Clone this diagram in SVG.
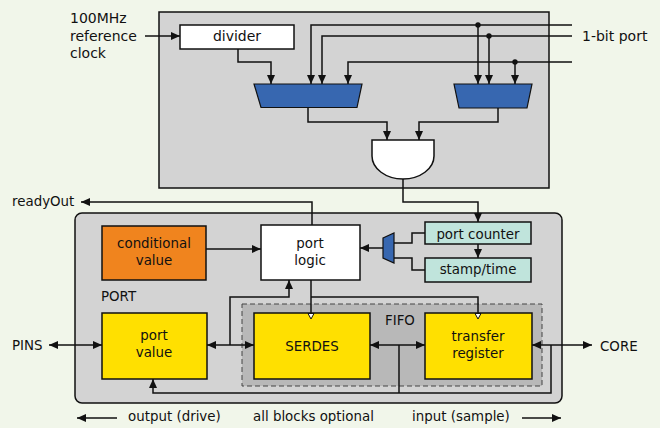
<svg xmlns="http://www.w3.org/2000/svg" width="660" height="428" viewBox="0 0 660 428">
<style>
text{font-family:"DejaVu Sans","Liberation Sans",sans-serif;font-size:13.4px;fill:#111}
.big{font-size:14px}
.c{text-anchor:middle}
.box{stroke:#111;stroke-width:1.5}
.w{stroke:#111;stroke-width:1.5;fill:none}
.a{marker-end:url(#ah)}
.d{marker-start:url(#ah);marker-end:url(#ah)}
.o{marker-end:url(#clk)}
.mux{fill:#3767b0;stroke:#111;stroke-width:1.2}
</style>
<defs>
<marker id="ah" markerUnits="userSpaceOnUse" markerWidth="10" markerHeight="10" refX="9" refY="0" orient="auto-start-reverse" overflow="visible"><path d="M0,-4 L9,0 L0,4 z" fill="#111"/></marker>
<marker id="clk" markerUnits="userSpaceOnUse" markerWidth="8" markerHeight="8" refX="0" refY="0" orient="auto" overflow="visible"><path d="M0.5,-3 L6,0 L0.5,3 z" fill="#fff" stroke="#111" stroke-width="1"/></marker>
</defs>
<rect width="660" height="428" fill="#f1f6ea"/>
<g id="timer-block"><rect x="159" y="12" width="390" height="176" fill="#d3d3d3" class="box"/></g>
<g id="port-block"><rect x="75" y="213" width="487" height="190" rx="7" fill="#d3d3d3" class="box"/><text x="101" y="301">PORT</text></g>
<g id="fifo"><rect x="242" y="304" width="300" height="82" fill="#b8b8b8" stroke="#444" stroke-width="1" stroke-dasharray="5,3"/><text x="385" y="325">FIFO</text></g>
<g id="clock-label"><text class="big" x="70" y="23">100MHz</text><text class="big" x="70" y="41">reference</text><text class="big" x="70" y="58">clock</text></g>
<g id="divider"><rect x="180" y="25" width="114" height="24" fill="#fff" class="box"/><text class="big c" x="237" y="41">divider</text></g>
<g id="port-label"><text class="big" x="582" y="41">1-bit port</text></g>
<g id="mux-left"><polygon points="254,84 362,84 357,107.5 261,107.5" class="mux"/></g>
<g id="mux-right"><polygon points="454,84 532,84 527,108 459,108" class="mux"/></g>
<g id="and-gate"><path d="M372,140 H434 V156 A31,23 0 0 1 372,156 Z" fill="#fff" class="box"/></g>
<g id="readyOut"><text x="12" y="206">readyOut</text></g>
<g id="conditional-value"><rect x="102" y="226" width="104" height="54" fill="#f0841e" class="box"/><text class="c" x="154" y="248">conditional</text><text class="c" x="154" y="265">value</text></g>
<g id="port-logic"><rect x="261" y="225" width="99" height="55" fill="#fff" class="box"/><text class="c" x="310" y="248">port</text><text class="c" x="310" y="265">logic</text></g>
<g id="mux-small"><polygon points="383,238 394,233 394,263 383,258" class="mux"/></g>
<g id="port-counter"><rect x="425" y="222" width="106" height="22" fill="#c0e4dc" class="box"/><text class="c" x="478" y="239">port counter</text></g>
<g id="stamp-time"><rect x="425" y="258" width="106" height="24" fill="#c0e4dc" class="box"/><text class="c" x="478" y="274">stamp/time</text></g>
<g id="port-value"><rect x="102" y="313" width="105" height="66" fill="#ffe000" class="box"/><text class="c" x="154" y="340">port</text><text class="c" x="154" y="357">value</text></g>
<g id="serdes"><rect x="254" y="313" width="116" height="66" fill="#ffe000" class="box"/><text class="c" x="312" y="351">SERDES</text></g>
<g id="transfer-register"><rect x="425" y="313" width="107" height="66" fill="#ffe000" class="box"/><text class="c" x="478" y="341">transfer</text><text class="c" x="478" y="358">register</text></g>
<g id="pins"><text x="12" y="350">PINS</text></g>
<g id="core"><text x="600" y="351">CORE</text></g>
<g id="footer"><text x="128" y="421">output (drive)</text><text x="253" y="421">all blocks optional</text><text x="412" y="421">input (sample)</text></g>
<g id="connectors">
<path class="w a" d="M145,36 H180"/>
<path class="w a" d="M238,49 V62 H271 V84"/>
<path class="w a" d="M572,25 H311 V84"/>
<path class="w a" d="M572,36 H322 V84"/>
<path class="w a" d="M572,62 H348 V84"/>
<path class="w a" d="M478,25 V84"/>
<path class="w a" d="M489,36 V84"/>
<path class="w a" d="M515,62 V84"/>
<circle cx="478" cy="25" r="2.7" fill="#111"/>
<circle cx="489" cy="36" r="2.7" fill="#111"/>
<circle cx="515" cy="62" r="2.7" fill="#111"/>
<path class="w a" d="M308,108 V122 H387 V140"/>
<path class="w a" d="M498,108 V122 H419 V140"/>
<path class="w a" d="M403,179 V202 H478 V222"/>
<path class="w a" d="M312,225 V202 H81"/>
<path class="w a" d="M206,249 H261"/>
<path class="w a" d="M383,248 H360"/>
<path class="w a" d="M478,244 V258"/>
<path class="w" d="M425,233 H412 V243 H394"/>
<path class="w" d="M425,270 H412 V258 H394"/>
<path class="w d" d="M49,345 H102"/>
<path class="w d" d="M207,345 H254"/>
<path class="w a" d="M230,345 V297 H289 V280"/>
<path class="w o" d="M311,280 V313"/>
<path class="w o" d="M311,297 H478 V313"/>
<path class="w d" d="M370,345 H425"/>
<path class="w" d="M399,345 V393"/>
<path class="w d" d="M532,345 H592"/>
<path class="w a" d="M551,345 V393 H153 V379"/>
<path class="w a" d="M117,418 H77"/>
<path class="w a" d="M522,418 H561"/>
</g>
</svg>
